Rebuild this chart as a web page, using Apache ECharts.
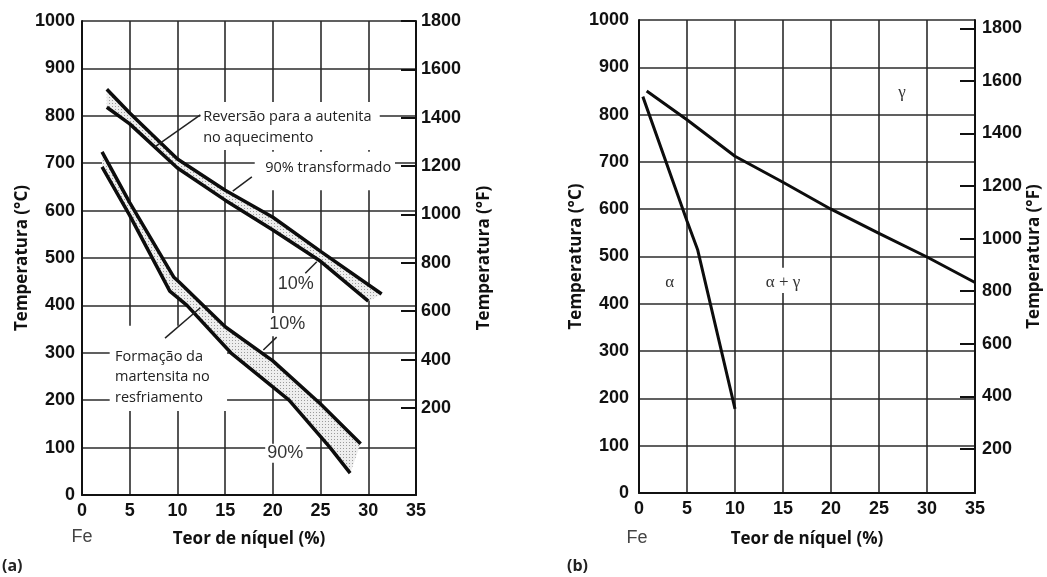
<!DOCTYPE html>
<html>
<head>
<meta charset="utf-8">
<script src="https://cdn.jsdelivr.net/npm/echarts@6/dist/echarts.min.js"></script>
<style>
  html, body { margin: 0; padding: 0; background: #fff; }
  #chart { width: 1047px; height: 577px; }
</style>
</head>
<body>
<div id="chart"></div>
<script>
  // ---- dados ----
  var nickelMin = 0, nickelMax = 35, nickelStep = 5
  var celsiusMin = 0, celsiusMax = 1000, celsiusStep = 100
  var fahrenheitTicks = [200, 400, 600, 800, 1000, 1200, 1400, 1600, 1800]

  // (a) reversão para a austenita no aquecimento
  var reversion90 = [[2.6, 856], [5, 806], [10, 709], [15, 643], [20, 586], [25, 514], [31.4, 424]]
  var reversion10 = [[2.6, 818], [5, 783], [10, 690], [15, 622], [20, 559], [25, 493], [30, 409]]
  // (a) formação da martensita no resfriamento
  var martensite10 = [[2.1, 724], [5, 617], [9.6, 460], [10.2, 449], [15, 355], [20, 283], [25, 192], [29.2, 108]]
  var martensite90 = [[2.1, 692], [5, 590], [9.2, 430], [11, 400], [15.6, 300], [21.7, 200], [26, 100], [28.1, 46]]

  // (b) diagrama Fe-Ni
  var gammaLine = [[0.8, 850], [5, 789], [10, 712], [15, 657], [20, 600], [25, 549], [30, 499], [35, 445]]
  var alphaLine = [[0.4, 838], [5, 575], [6.1, 515], [10, 178]]

  // anotações (coordenadas em % Ni / °C)
  var notesA = [
    {text: 'Reversão para a autenita\nno aquecimento', at: [12.7, 819], valign: 'top', kind: 'txt'},
    {text: '90% transformado', at: [19.2, 690], valign: 'middle', kind: 'txt'},
    {text: '10%', at: [22.4, 445], align: 'center', valign: 'middle', kind: 'pct'},
    {text: '10%', at: [21.5, 361], align: 'center', valign: 'middle', kind: 'pct'},
    {text: 'Formação da\nmartensita no\nresfriamento', at: [3.46, 314], valign: 'top', kind: 'txt'},
    {text: '90%', at: [21.3, 89], align: 'center', valign: 'middle', kind: 'pct'}
  ]
  var leadersA = [[12.4, 802, 7.6, 734], [17.8, 671, 15.8, 641], [23.4, 468, 24.6, 492], [20.4, 333, 19.0, 306], [8.7, 331, 12.4, 395]]
  var boxesA = [[12.4, 829, 31.2, 728], [18.1, 724, 32.8, 643], [20.3, 468, 24.5, 422], [19.3, 384, 23.6, 335], [2.9, 357, 15.2, 177], [19.2, 108, 23.5, 68]]

  var notesB = [
    {text: 'α', at: [3.2, 444], align: 'center', valign: 'middle', kind: 'greek'},
    {text: 'α + γ', at: [15.0, 444], align: 'center', valign: 'middle', kind: 'greek'},
    {text: 'γ', at: [27.4, 846], align: 'center', valign: 'middle', kind: 'greek'}
  ]
  var boxesB = [[12.6, 476, 17.6, 423]]

  var fonts = {
    txt: {font: '14.5px "Open Sans"', fill: '#222', lh: 20.5},
    pct: {font: '18px "Liberation Sans"', fill: '#333', lh: 20},
    greek: {font: '17px "Liberation Serif"', fill: '#333', lh: 20}
  }

  // padrão pontilhado das faixas
  var dot = document.createElement('canvas')
  dot.width = 3
  dot.height = 3
  var g = dot.getContext('2d')
  g.fillStyle = '#eeeeee'
  g.fillRect(0, 0, 3, 3)
  g.fillStyle = '#9a9a9a'
  g.fillRect(1, 1, 1, 1)
  var bandFill = {image: dot, repeat: 'repeat'}

  var plain = function (v) { return String(v) }
  var tickFont = {fontFamily: 'Liberation Sans', fontWeight: 'bold', fontSize: 18, color: '#111', formatter: plain}
  var nameFont = {fontFamily: 'Open Sans', fontWeight: 'bold', fontSize: 17, color: '#111'}
  var gridLine = {show: true, lineStyle: {color: '#2b2b2b', width: 1.6}}
  var axisLine = {show: true, lineStyle: {color: '#111', width: 2}}

  function nickelAxis (gi, gap) {
    return {
      gridIndex: gi, type: 'value', min: nickelMin, max: nickelMax, interval: nickelStep,
      axisLine: axisLine, axisTick: {show: false}, splitLine: gridLine,
      axisLabel: Object.assign({margin: 7, showMinLabel: true, showMaxLabel: true}, tickFont),
      name: 'Teor de níquel (%)', nameLocation: 'middle', nameGap: gap, nameTextStyle: nameFont
    }
  }
  function celsiusAxis (gi, gap, margin) {
    return {
      gridIndex: gi, type: 'value', min: celsiusMin, max: celsiusMax, interval: celsiusStep,
      axisLine: axisLine, axisTick: {show: false}, splitLine: gridLine,
      axisLabel: Object.assign({margin: margin, showMinLabel: true, showMaxLabel: true}, tickFont),
      name: 'Temperatura (°C)', nameLocation: 'middle', nameGap: gap, nameTextStyle: nameFont
    }
  }
  function fahrenheitAxis (gi, min, max, gap, margin) {
    return {
      gridIndex: gi, type: 'value', position: 'right', min: min, max: max,
      axisLine: axisLine, splitLine: {show: false},
      axisTick: {show: true, inside: true, length: 15, customValues: fahrenheitTicks, lineStyle: {color: '#111', width: 2}},
      axisLabel: Object.assign({margin: margin, customValues: fahrenheitTicks}, tickFont),
      name: 'Temperatura (°F)', nameLocation: 'middle', nameGap: gap, nameTextStyle: nameFont
    }
  }

  function curve (xi, data, width) {
    return {
      type: 'line', xAxisIndex: xi, yAxisIndex: xi * 2, data: data, z: 3, silent: true,
      showSymbol: false, lineStyle: {color: '#0d0d0d', width: width}
    }
  }
  function band (xi, upper, lower) {
    return {
      type: 'custom', xAxisIndex: xi, yAxisIndex: xi * 2, z: 2, silent: true,
      data: [upper[0]],
      renderItem: function (params, api) {
        var pts = upper.concat(lower.slice().reverse()).map(function (d) { return api.coord(d) })
        return {type: 'polygon', shape: {points: pts}, style: {fill: bandFill}}
      }
    }
  }
  function boxes (xi, list) {
    return {
      type: 'custom', xAxisIndex: xi, yAxisIndex: xi * 2, z: 1, silent: true, data: list,
      renderItem: function (params, api) {
        var a = api.coord([api.value(0), api.value(1)])
        var b = api.coord([api.value(2), api.value(3)])
        return {
          type: 'rect',
          shape: {x: Math.min(a[0], b[0]), y: Math.min(a[1], b[1]), width: Math.abs(b[0] - a[0]), height: Math.abs(b[1] - a[1])},
          style: {fill: '#fff'}
        }
      }
    }
  }
  function leaders (xi, list) {
    return {
      type: 'custom', xAxisIndex: xi, yAxisIndex: xi * 2, z: 4, silent: true, data: list,
      renderItem: function (params, api) {
        var a = api.coord([api.value(0), api.value(1)])
        var b = api.coord([api.value(2), api.value(3)])
        return {type: 'line', shape: {x1: a[0], y1: a[1], x2: b[0], y2: b[1]}, style: {stroke: '#222', lineWidth: 1.5}}
      }
    }
  }
  function notes (xi, list) {
    return {
      type: 'custom', xAxisIndex: xi, yAxisIndex: xi * 2, z: 5, silent: true,
      data: list.map(function (n, i) { return [n.at[0], n.at[1], i] }),
      renderItem: function (params, api) {
        var n = list[api.value(2)]
        var f = fonts[n.kind]
        var p = api.coord([api.value(0), api.value(1)])
        return {
          type: 'text', x: p[0], y: p[1],
          style: {text: n.text, font: f.font, fill: f.fill, lineHeight: f.lh, align: n.align || 'left', verticalAlign: n.valign || 'top'}
        }
      }
    }
  }

  var chart = echarts.init(document.getElementById('chart'), null, {renderer: 'canvas'})
  chart.setOption({
    backgroundColor: '#fff',
    animation: false,
    grid: [
      {left: 82, top: 21, width: 334, height: 474, outerBoundsMode: 'none'},
      {left: 639, top: 20, width: 336, height: 473, outerBoundsMode: 'none'}
    ],
    xAxis: [nickelAxis(0, 36), nickelAxis(1, 38)],
    yAxis: [
      celsiusAxis(0, 50, 7),
      fahrenheitAxis(0, -160, 1800, 60, 5),
      celsiusAxis(1, 49, 10),
      fahrenheitAxis(1, 32, 1832, 51, 7)
    ],
    graphic: [
      {type: 'text', x: 82, y: 537, style: {text: 'Fe', font: '18px "Liberation Sans"', fill: '#444', align: 'center', verticalAlign: 'middle'}},
      {type: 'text', x: 637, y: 538, style: {text: 'Fe', font: '18px "Liberation Sans"', fill: '#444', align: 'center', verticalAlign: 'middle'}},
      {type: 'text', x: 2, y: 566, style: {text: '(a)', font: 'bold 16px "Open Sans"', fill: '#222', verticalAlign: 'middle'}},
      {type: 'text', x: 567, y: 566, style: {text: '(b)', font: 'bold 16px "Open Sans"', fill: '#222', verticalAlign: 'middle'}}
    ],
    series: [
      boxes(0, boxesA),
      band(0, reversion90, reversion10),
      band(0, martensite10, martensite90),
      curve(0, reversion90, 3.5),
      curve(0, reversion10, 3.5),
      curve(0, martensite10, 3.5),
      curve(0, martensite90, 3.5),
      leaders(0, leadersA),
      notes(0, notesA),
      boxes(1, boxesB),
      curve(1, gammaLine, 3),
      curve(1, alphaLine, 3),
      notes(1, notesB)
    ]
  })
</script>
</body>
</html>
